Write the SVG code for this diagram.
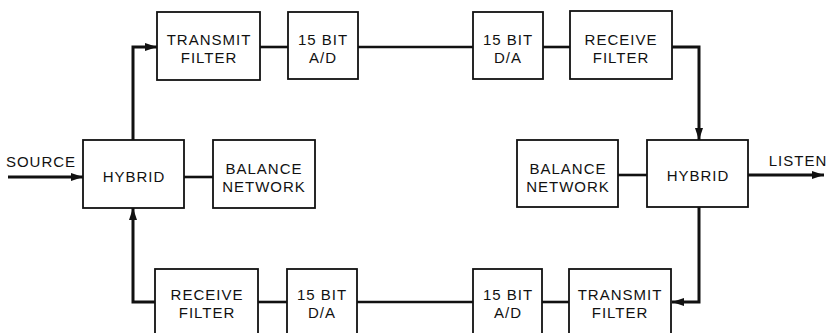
<svg xmlns="http://www.w3.org/2000/svg" width="827" height="333" viewBox="0 0 827 333">
<defs>
<style>
.box{fill:#fff;stroke:#111;stroke-width:1.8}
.t{font-family:"Liberation Sans",Arial,sans-serif;font-size:15px;fill:#111;text-anchor:middle;letter-spacing:1px}
.w{fill:none;stroke:#111;stroke-width:2.6}
.wt{fill:none;stroke:#111;stroke-width:3}
</style>
<marker id="ah" viewBox="0 0 12 8" refX="12" refY="4" markerWidth="12" markerHeight="8" markerUnits="userSpaceOnUse" orient="auto">
<path d="M0,0 L12,4 L0,8 Z" fill="#111"/>
</marker>
</defs>
<rect width="827" height="333" fill="#fff"/>
<g id="connectors">
<path class="wt" d="M8,177 H83" marker-end="url(#ah)"/>
<path class="wt" d="M133,140 V47 H157" marker-end="url(#ah)"/>
<path class="w" d="M260,47 H288"/>
<path class="w" d="M358,47 H473"/>
<path class="w" d="M543,47 H570"/>
<path class="wt" d="M672,47 H699 V140" marker-end="url(#ah)"/>
<path class="wt" d="M699,207 V302 H672" marker-end="url(#ah)"/>
<path class="w" d="M569,302 H542"/>
<path class="w" d="M473,302 H357"/>
<path class="w" d="M287,302 H258"/>
<path class="wt" d="M155,302 H133 V208" marker-end="url(#ah)"/>
<path class="w" d="M184,177 H213"/>
<path class="w" d="M618,175 H647"/>
<path class="wt" d="M748,175 H824" marker-end="url(#ah)"/>
</g>
<g id="source-label"><text class="t" x="41" y="167">SOURCE</text></g>
<g id="listen-label"><text class="t" x="798" y="166">LISTEN</text></g>
<g id="tx-filter-top"><rect class="box" x="157" y="12" width="103" height="68"/><text class="t" x="209" y="45">TRANSMIT</text><text class="t" x="209" y="63">FILTER</text></g>
<g id="ad-top"><rect class="box" x="288" y="12" width="70" height="67"/><text class="t" x="323" y="45">15 BIT</text><text class="t" x="323" y="63">A/D</text></g>
<g id="da-top"><rect class="box" x="473" y="12" width="70" height="67"/><text class="t" x="508" y="45">15 BIT</text><text class="t" x="508" y="63">D/A</text></g>
<g id="rx-filter-top"><rect class="box" x="570" y="11" width="102" height="68"/><text class="t" x="621" y="45">RECEIVE</text><text class="t" x="621" y="63">FILTER</text></g>
<g id="hybrid-left"><rect class="box" x="83" y="140" width="101" height="68"/><text class="t" x="134" y="182">HYBRID</text></g>
<g id="balance-left"><rect class="box" x="213" y="140" width="102" height="68"/><text class="t" x="264" y="174">BALANCE</text><text class="t" x="264" y="192">NETWORK</text></g>
<g id="balance-right"><rect class="box" x="517" y="140" width="101" height="67"/><text class="t" x="568" y="174">BALANCE</text><text class="t" x="568" y="192">NETWORK</text></g>
<g id="hybrid-right"><rect class="box" x="647" y="140" width="101" height="67"/><text class="t" x="698" y="181">HYBRID</text></g>
<g id="rx-filter-bottom"><rect class="box" x="155" y="269" width="103" height="70"/><text class="t" x="207" y="300">RECEIVE</text><text class="t" x="207" y="318">FILTER</text></g>
<g id="da-bottom"><rect class="box" x="287" y="269" width="70" height="70"/><text class="t" x="322" y="300">15 BIT</text><text class="t" x="322" y="318">D/A</text></g>
<g id="ad-bottom"><rect class="box" x="473" y="269" width="69" height="70"/><text class="t" x="508" y="300">15 BIT</text><text class="t" x="508" y="318">A/D</text></g>
<g id="tx-filter-bottom"><rect class="box" x="569" y="269" width="102" height="70"/><text class="t" x="620" y="300">TRANSMIT</text><text class="t" x="620" y="318">FILTER</text></g>
</svg>
